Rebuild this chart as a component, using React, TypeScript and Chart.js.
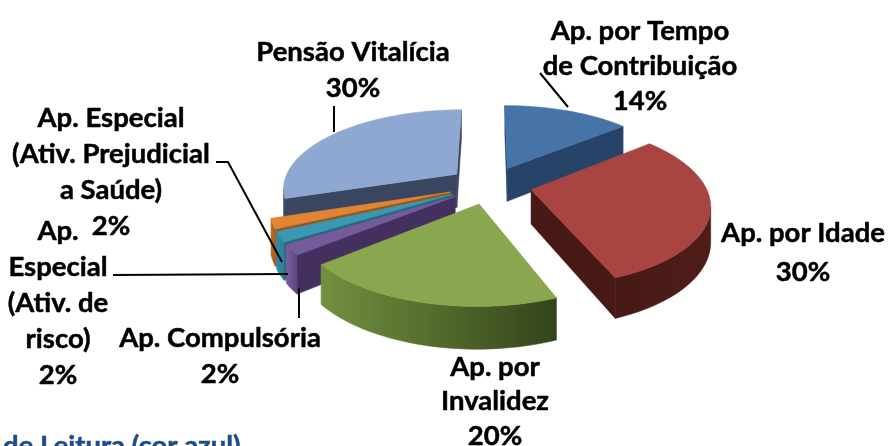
import React, { useEffect, useRef } from "react";
import { Chart, registerables } from "chart.js";

Chart.register(...registerables);

const categories = [
  "Ap. por Tempo de Contribuição",
  "Ap. por Idade",
  "Ap. por Invalidez",
  "Ap. Compulsória",
  "Ap. Especial (Ativ. de risco)",
  "Ap. Especial (Ativ. Prejudicial a Saúde)",
  "Pensão Vitalícia",
];
const values = [14, 30, 20, 2, 2, 2, 30];
const topColors = ["#4674a8", "#a84442", "#8aa64e", "#775a9c", "#3a98b4", "#df8534", "#8fa8d1"];
const wallFrom = ["#2a4a72", "#4f1d19", "#34441a", "#5e4580", "#2f7f98", "#a86020", "#3a4862"];
const wallTo = ["#26426a", "#461915", "#72903f", "#7a5e9e", "#338aa4", "#b86a24", "#3a4862"];
const cutColors = ["#274468", "#471915", "#34441a", "#43305f", "#25697f", "#95551b", "#3a4660"];

const labelLines = [
  ["Ap. por Tempo", "de Contribuição"],
  ["Ap. por Idade"],
  ["Ap. por", "Invalidez"],
  ["Ap. Compulsória"],
  ["Ap.", "Especial", "(Ativ. de", "risco)"],
  ["Ap. Especial", "(Ativ. Prejudicial", "a Saúde)"],
  ["Pensão Vitalícia"],
];
const labelAnchors = [
  { x: 640, y: 31, gap: 35 },
  { x: 803, y: 233, gap: 39 },
  { x: 495, y: 367, gap: 34.5 },
  { x: 220, y: 338, gap: 36 },
  { x: 58, y: 231, gap: 36 },
  { x: 111, y: 118, gap: 36 },
  { x: 353, y: 52, gap: 36 },
];
const leaders = [
  [[540, 73], [568, 107]],
  [[334, 106], [334, 132]],
  [[216, 162], [228, 162], [282, 262]],
  [[113, 275], [288, 274]],
  [[299, 288], [299, 318]],
];
const footnote = "de Leitura (cor azul)";

const SQUASH = 0.45;
const DISTANCE = 1050;
const DEPTH = 34;
const EXPLODE = 42;
const FONT = "bold 27.5px Lato, sans-serif";

type P = { x: number; y: number };

const pie3d = {
  id: "pie3d",
  beforeDatasetsDraw(chart: any) {
    const ctx: CanvasRenderingContext2D = chart.ctx;
    const arcs = chart.getDatasetMeta(0).data;
    const order = arcs
      .map((_: any, i: number) => i)
      .sort((a: number, b: number) => {
        const m = (e: any) => Math.sin((e.startAngle + e.endAngle) / 2);
        return m(arcs[a]) - m(arcs[b]);
      });

    for (const i of order) {
      const arc = arcs[i];
      const { x: cx, y: cy, startAngle, endAngle, outerRadius } = arc;
      const mid = (startAngle + endAngle) / 2;
      const off = arc.options.offset;
      const ox = Math.cos(mid) * off;
      const oy = Math.sin(mid) * off;
      const proj = (X: number, Y: number, z: number): P => {
        const s = 1 / (1 - Y / DISTANCE);
        return { x: cx + X * s, y: cy + SQUASH * Y * s + z * s };
      };
      const steps = Math.max(4, Math.ceil((endAngle - startAngle) / 0.04));
      const rim: { X: number; Y: number }[] = [];
      for (let k = 0; k <= steps; k++) {
        const a = startAngle + ((endAngle - startAngle) * k) / steps;
        rim.push({ X: ox + Math.cos(a) * outerRadius, Y: oy + Math.sin(a) * outerRadius });
      }
      const fillPoly = (pts: P[], fill: string | CanvasGradient) => {
        ctx.beginPath();
        pts.forEach((p, n) => (n ? ctx.lineTo(p.x, p.y) : ctx.moveTo(p.x, p.y)));
        ctx.closePath();
        ctx.fillStyle = fill;
        ctx.strokeStyle = fill;
        ctx.lineWidth = 0.6;
        ctx.fill();
        ctx.stroke();
      };
      const quad = (a: { X: number; Y: number }, b: { X: number; Y: number }) => [
        proj(a.X, a.Y, 0),
        proj(b.X, b.Y, 0),
        proj(b.X, b.Y, DEPTH),
        proj(a.X, a.Y, DEPTH),
      ];
      const apex = { X: ox, Y: oy };
      const first = rim[0];
      const last = rim[rim.length - 1];
      if (proj(first.X, first.Y, 0).x < proj(apex.X, apex.Y, 0).x) fillPoly(quad(apex, first), cutColors[i]);
      if (proj(apex.X, apex.Y, 0).x < proj(last.X, last.Y, 0).x) fillPoly(quad(last, apex), cutColors[i]);

      const vis = rim.filter((_, n) => {
        const p = rim[n];
        const q = rim[n + 1] || null;
        const prev = rim[n - 1] || null;
        const goes = (u: any, v: any) => proj(v.X, v.Y, 0).x < proj(u.X, u.Y, 0).x;
        return (q && goes(p, q)) || (prev && goes(prev, p));
      });
      if (vis.length > 1) {
        const top = vis.map((r) => proj(r.X, r.Y, 0));
        const bottom = vis.map((r) => proj(r.X, r.Y, DEPTH)).reverse();
        const g = ctx.createLinearGradient(top[0].x, 0, top[top.length - 1].x, 0);
        g.addColorStop(0, wallFrom[i]);
        g.addColorStop(1, wallTo[i]);
        fillPoly([...top, ...bottom], g);
      }
      fillPoly([proj(apex.X, apex.Y, 0), ...rim.map((r) => proj(r.X, r.Y, 0))], topColors[i]);
    }
    return false;
  },
  afterDraw(chart: any) {
    const ctx: CanvasRenderingContext2D = chart.ctx;
    ctx.save();
    ctx.strokeStyle = "#000";
    ctx.lineWidth = 2;
    for (const line of leaders) {
      ctx.beginPath();
      line.forEach(([x, y], n) => (n ? ctx.lineTo(x, y) : ctx.moveTo(x, y)));
      ctx.stroke();
    }
    ctx.font = FONT;
    ctx.textAlign = "center";
    ctx.textBaseline = "middle";
    ctx.lineJoin = "round";
    ctx.lineWidth = 0.5;
    const put = (t: string, x: number, y: number, c: string) => {
      ctx.fillStyle = c;
      ctx.strokeStyle = c;
      ctx.fillText(t, x, y);
      ctx.strokeText(t, x, y);
    };
    labelLines.forEach((lines, i) => {
      const a = labelAnchors[i];
      lines.forEach((t, n) => put(t, a.x, a.y + n * a.gap, "#000"));
      put(values[i] + "%", a.x, a.y + lines.length * a.gap, "#000");
    });
    ctx.textAlign = "left";
    put(footnote, 3, 446, "#1f4e87");
    ctx.restore();
  },
};

export default function App() {
  const ref = useRef<HTMLCanvasElement>(null);
  useEffect(() => {
    const chart = new Chart(ref.current!, {
      type: "pie",
      data: {
        labels: categories,
        datasets: [{ data: values, backgroundColor: topColors, offset: EXPLODE, borderWidth: 0 }],
      },
      options: {
        responsive: false,
        animation: false,
        radius: 174,
        layout: { padding: { left: 92, bottom: 76 } },
        plugins: { legend: { display: false }, tooltip: { enabled: false } },
      } as any,
      plugins: [pie3d as any],
    });
    return () => chart.destroy();
  }, []);
  return (
    <div style={{ position: "absolute", left: 0, top: 0, width: 888, height: 446, background: "#fff", overflow: "hidden" }}>
      <canvas ref={ref} width={888} height={446} style={{ display: "block" }} />
    </div>
  );
}
